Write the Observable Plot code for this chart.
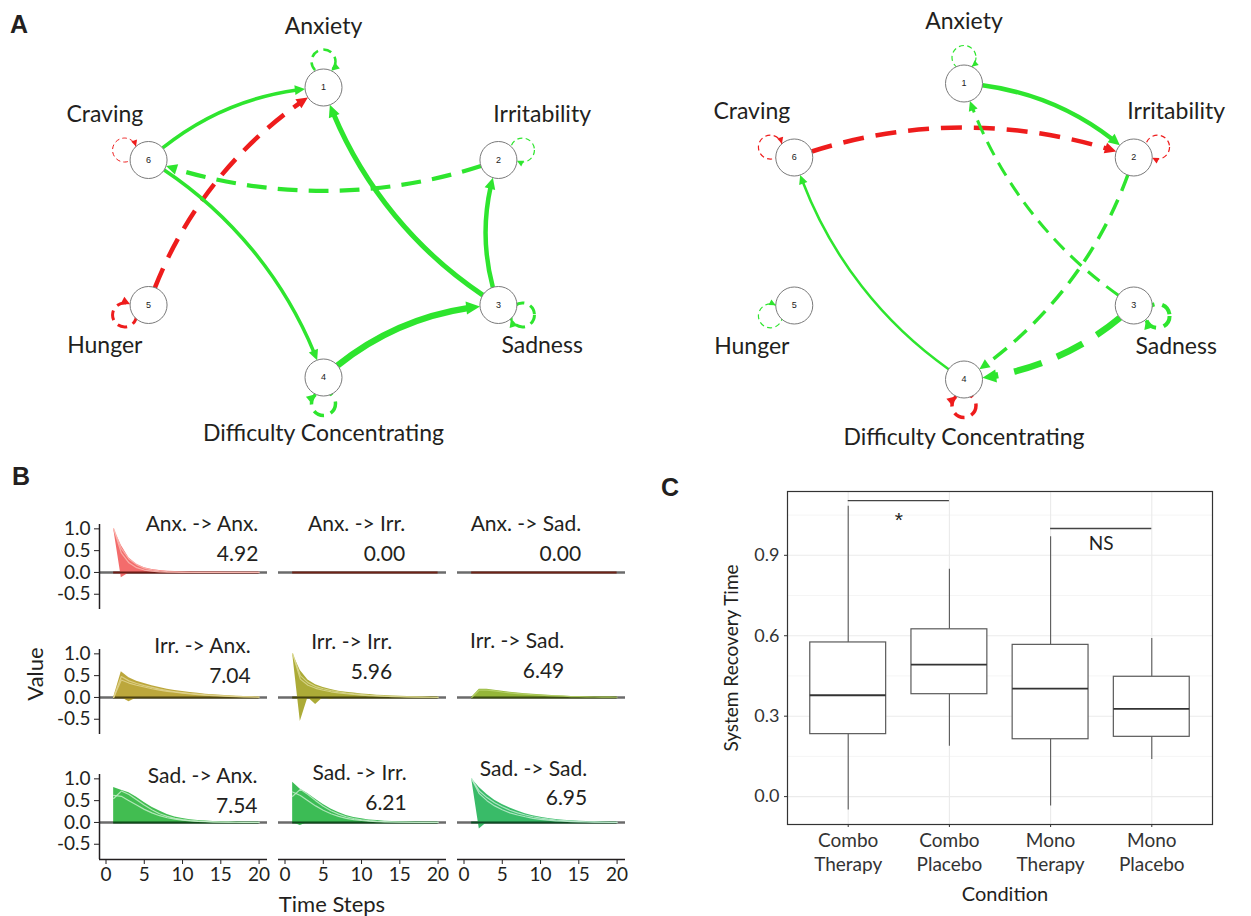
<!DOCTYPE html>
<html>
<head>
<meta charset="utf-8">
<script src="https://cdn.jsdelivr.net/npm/d3@7"></script>
<script src="https://cdn.jsdelivr.net/npm/@observablehq/plot@0.6"></script>
<style>
  body { margin: 0; background: #fff; }
  #fig { position: relative; width: 1251px; height: 916px; background: #fff; overflow: hidden; font-family: Lato, sans-serif; color: #231f20; }
  .pane { position: absolute; }
  .letter { position: absolute; font-family: "Liberation Sans", Arial, sans-serif; font-weight: bold; font-size: 25px; line-height: 25px; color: #231f20; }
  .axt { position: absolute; font-family: Lato, sans-serif; color: #231f20; white-space: nowrap; line-height: 1; transform: translate(-50%, -50%); }
  .axt.rot { transform: translate(-50%, -50%) rotate(-90deg); }
</style>
</head>
<body>
<div id="fig">
  <div class="pane" id="netL" style="left:0;top:0"></div>
  <div class="pane" id="netR" style="left:625px;top:0"></div>
  <div class="pane" id="irf" style="left:0;top:470px"></div>
  <div class="pane" id="box" style="left:640px;top:460px"></div>
  <div class="letter" style="left:10px;top:12px">A</div>
  <div class="letter" style="left:12px;top:464px">B</div>
  <div class="letter" style="left:661px;top:475px">C</div>
  <div class="axt rot" style="left:35px;top:674px;font-size:22px">Value</div>
  <div class="axt" style="left:332px;top:904px;font-size:22px">Time Steps</div>
  <div class="axt rot" style="left:730px;top:658px;font-size:19px">System Recovery Time</div>
  <div class="axt" style="left:1005px;top:893px;font-size:20px">Condition</div>
</div>
<script>
// ---------------- Panel A data: networks ----------------
const nodeIds = [1, 2, 3, 4, 5, 6];
const nodeNames = ["Anxiety", "Irritability", "Sadness", "Difficulty Concentrating", "Hunger", "Craving"];
const layoutX = [0, 0.866, 0.866, 0, -0.866, -0.866];
const layoutY = [1, 0.5, -0.5, -1, -0.5, 0.5];

// left network (edge weights; sign = colour, |w| = thickness)
const leftFrom   = [6, 5, 3, 2, 3, 6, 4];
const leftTo     = [1, 1, 1, 6, 2, 4, 3];
const leftWeight = [0.35, -0.45, 0.5, 0.42, 0.45, 0.35, 0.65];
const leftDashed = [false, true, false, true, false, false, false];
const leftLoops  = [0.25, 0.12, 0.3, 0.35, -0.3, -0.1];

// right network
const rightFrom   = [1, 6, 3, 2, 3, 4];
const rightTo     = [2, 2, 1, 4, 4, 6];
const rightWeight = [0.45, -0.45, 0.3, 0.35, 0.65, 0.25];
const rightDashed = [false, true, true, true, true, false];
const rightLoops  = [0.12, -0.12, 0.4, -0.35, 0.12, -0.12];

// ---------------- Panel B data: impulse responses ----------------
const timeSteps = [1, 2, 3, 4, 5, 6, 7, 8, 9, 10, 11, 12, 13, 14, 15, 16, 17, 18, 19, 20];
const panelFrom = ["Anx.", "Anx.", "Anx.", "Irr.", "Irr.", "Irr.", "Sad.", "Sad.", "Sad."];
const panelTo   = ["Anx.", "Irr.", "Sad.", "Anx.", "Irr.", "Sad.", "Anx.", "Irr.", "Sad."];
const recovery  = [4.92, 0.00, 0.00, 7.04, 5.96, 6.49, 7.54, 6.21, 6.95];
const upperEnvelope = [
  [1.00, 0.62, 0.33, 0.19, 0.11, 0.07, 0.045, 0.03, 0.02, 0.013, 0.009, 0.006, 0.004, 0.003, 0.002, 0.001, 0.001, 0, 0, 0],
  [0, 0, 0, 0, 0, 0, 0, 0, 0, 0, 0, 0, 0, 0, 0, 0, 0, 0, 0, 0],
  [0, 0, 0, 0, 0, 0, 0, 0, 0, 0, 0, 0, 0, 0, 0, 0, 0, 0, 0, 0],
  [0, 0.59, 0.45, 0.37, 0.32, 0.27, 0.23, 0.19, 0.16, 0.135, 0.115, 0.095, 0.075, 0.06, 0.048, 0.037, 0.028, 0.02, 0.014, 0.01],
  [1.00, 0.62, 0.40, 0.29, 0.23, 0.18, 0.145, 0.12, 0.10, 0.08, 0.065, 0.052, 0.042, 0.034, 0.027, 0.021, 0.016, 0.012, 0.008, 0.005],
  [0, 0.19, 0.19, 0.165, 0.14, 0.12, 0.10, 0.085, 0.072, 0.06, 0.05, 0.04, 0.031, 0.024, 0.02, 0.016, 0.013, 0.01, 0.008, 0.006],
  [0.80, 0.74, 0.68, 0.58, 0.46, 0.35, 0.26, 0.18, 0.125, 0.088, 0.062, 0.045, 0.033, 0.024, 0.018, 0.013, 0.01, 0.007, 0.005, 0.004],
  [0.92, 0.76, 0.66, 0.53, 0.41, 0.31, 0.23, 0.16, 0.115, 0.082, 0.058, 0.042, 0.03, 0.022, 0.016, 0.012, 0.009, 0.006, 0.004, 0.003],
  [1.00, 0.80, 0.64, 0.51, 0.41, 0.33, 0.26, 0.20, 0.155, 0.12, 0.09, 0.068, 0.05, 0.037, 0.027, 0.019, 0.013, 0.009, 0.006, 0.004]
];
const lowerEnvelope = [
  [1.00, -0.12, -0.01, 0, 0, 0, 0, 0, 0, 0, 0, 0, 0, 0, 0, 0, 0, 0, 0, 0],
  [0, 0, 0, 0, 0, 0, 0, 0, 0, 0, 0, 0, 0, 0, 0, 0, 0, 0, 0, 0],
  [0, 0, 0, 0, 0, 0, 0, 0, 0, 0, 0, 0, 0, 0, 0, 0, 0, 0, 0, 0],
  [0, 0, -0.10, -0.01, 0, 0, 0, 0, 0, 0, 0, 0, 0, 0, 0, 0, 0, 0, 0, 0],
  [1.00, -0.55, 0, -0.16, 0, -0.04, 0, 0, 0, 0, 0, 0, 0, 0, 0, 0, 0, 0, 0, 0],
  [0, -0.02, 0, 0, 0, 0, 0, 0, 0, 0, 0, 0, 0, 0, 0, 0, 0, 0, 0, 0],
  [0, -0.03, 0, 0, 0, 0, 0, 0, 0, 0, 0, 0, 0, 0, 0, 0, 0, 0, 0, 0],
  [0, -0.07, 0, 0, 0, 0, 0, 0, 0, 0, 0, 0, 0, 0, 0, 0, 0, 0, 0, 0],
  [1.00, -0.15, 0, 0, 0, 0, 0, 0, 0, 0, 0, 0, 0, 0, 0, 0, 0, 0, 0, 0]
];
const highlightA = [
  [1.00, 0.55, 0.31, 0.18, 0.10, 0.06, 0.035, 0.02, 0.012, 0.007, 0.004, 0.002, 0.001, 0, 0, 0, 0, 0, 0, 0],
  null, null,
  [0, 0.48, 0.38, 0.32, 0.27, 0.23, 0.19, 0.16, 0.13, 0.11, 0.09, 0.075, 0.06, 0.05, 0.04, 0.03, 0.024, 0.018, 0.013, 0.009],
  [1.00, 0.50, 0.34, 0.25, 0.20, 0.16, 0.13, 0.10, 0.08, 0.065, 0.05, 0.04, 0.032, 0.025, 0.02, 0.015, 0.011, 0.008, 0.005, 0.003],
  [0, 0.17, 0.17, 0.15, 0.125, 0.105, 0.088, 0.074, 0.062, 0.051, 0.042, 0.034, 0.027, 0.021, 0.017, 0.013, 0.01, 0.008, 0.006, 0.004],
  [0.55, 0.72, 0.64, 0.52, 0.40, 0.29, 0.20, 0.14, 0.095, 0.065, 0.045, 0.031, 0.022, 0.015, 0.01, 0.007, 0.005, 0.003, 0.002, 0.001],
  [0.60, 0.76, 0.64, 0.50, 0.37, 0.27, 0.19, 0.13, 0.09, 0.06, 0.04, 0.028, 0.02, 0.014, 0.01, 0.007, 0.005, 0.003, 0.002, 0.001],
  [1.00, 0.72, 0.57, 0.45, 0.36, 0.28, 0.22, 0.17, 0.13, 0.10, 0.075, 0.056, 0.042, 0.031, 0.022, 0.016, 0.011, 0.008, 0.005, 0.003]
];
const highlightB = [
  [1.00, 0.45, 0.22, 0.11, 0.055, 0.03, 0.015, 0.008, 0.004, 0.002, 0.001, 0, 0, 0, 0, 0, 0, 0, 0, 0],
  null, null,
  [0, 0.40, 0.33, 0.28, 0.24, 0.20, 0.17, 0.14, 0.12, 0.10, 0.08, 0.065, 0.052, 0.042, 0.033, 0.026, 0.02, 0.015, 0.011, 0.008],
  [1.00, 0.42, 0.28, 0.21, 0.165, 0.13, 0.105, 0.085, 0.068, 0.054, 0.043, 0.034, 0.027, 0.021, 0.016, 0.012, 0.009, 0.006, 0.004, 0.002],
  null,
  [0.62, 0.60, 0.50, 0.40, 0.30, 0.22, 0.155, 0.108, 0.075, 0.052, 0.036, 0.025, 0.017, 0.012, 0.008, 0.006, 0.004, 0.003, 0.002, 0.001],
  [0.70, 0.62, 0.50, 0.38, 0.28, 0.20, 0.14, 0.095, 0.065, 0.045, 0.031, 0.021, 0.015, 0.01, 0.007, 0.005, 0.003, 0.002, 0.001, 0.001],
  [1.00, 0.66, 0.50, 0.38, 0.29, 0.22, 0.17, 0.13, 0.095, 0.07, 0.052, 0.038, 0.028, 0.02, 0.014, 0.01, 0.007, 0.005, 0.003, 0.002]
];
// annotation anchors (time step, value) of each panel's label
const labelStep  = [19.9, 15.7, 15.3, 18.9, 14.0, 13.1, 19.8, 15.9, 16.1];
const labelValue = [0.83, 0.83, 0.83, 0.89, 0.98, 1.0, 0.78, 0.85, 0.95];

// ---------------- Panel C data: boxplot summary ----------------
const conditions   = ["Combo\nTherapy", "Combo\nPlacebo", "Mono\nTherapy", "Mono\nPlacebo"];
const whiskerLow   = [-0.05, 0.188, -0.035, 0.138];
const quartile1    = [0.233, 0.382, 0.214, 0.223];
const medians      = [0.378, 0.4925, 0.403, 0.327];
const quartile3    = [0.575, 0.624, 0.566, 0.447];
const whiskerHigh  = [1.083, 0.848, 0.969, 0.59];
const compareA     = [1, 3];
const compareB     = [2, 4];
const compareY     = [1.104, 1.0];
const compareLabel = ["*", "NS"];
const yMajor = [0, 0.3, 0.6, 0.9];
const yMinor = [0.15, 0.45, 0.75, 1.05];

// ---------------- styles ----------------
const GREEN = "#2ee52e", RED = "#ee1c1c";
const panelFill  = ["#f26464", "#f26464", "#f26464", "#b8a232", "#a8a62c", "#8fb22e", "#38b948", "#32b84c", "#2eb760"];
const panelDark  = ["#6e1c16", "#6e2418", "#6e2418", "#4f4512", "#46450f", "#3d4e12", "#0f4d1a", "#0f4d1c", "#0e4d25"];
const panelLight = ["#fab8b2", "#fab8b2", "#fab8b2", "#e0d38e", "#d9d78f", "#b9d46f", "#c4eec8", "#c1ecc8", "#bfecd0"];
const NODE_R = 18.5, BEND = 20, LOOP_R = 12, LOOP_D = 26;

function dashEdge(sw) { return `${(3 + 4 * sw).toFixed(1)},${(2 + 2.2 * sw).toFixed(1)}`; }
function dashLoop(sw) { return `${(2 + 2.6 * sw).toFixed(1)},${(1.5 + 1.6 * sw).toFixed(1)}`; }

// point on a Plot.arrow arc at chord distance d from its end, with travel direction
function arcPoint(P1, P2, bendDeg, d) {
  const [x1, y1] = P1, [x2, y2] = P2;
  const L = Math.hypot(x2 - x1, y2 - y1), a = Math.atan2(y2 - y1, x2 - x1);
  const b = bendDeg * Math.PI / 180;
  if (!b) return {p: [x2 - d * Math.cos(a), y2 - d * Math.sin(a)], t: a};
  const r = L / (2 * Math.sin(Math.abs(b)));
  const h = L / (2 * Math.tan(b));
  const cx = (x1 + x2) / 2 + h * Math.cos(a + Math.PI / 2);
  const cy = (y1 + y2) / 2 + h * Math.sin(a + Math.PI / 2);
  const th2 = Math.atan2(y2 - cy, x2 - cx);
  const s = Math.sign(b);
  const th = th2 - s * 2 * Math.asin(d / (2 * r));
  return {p: [cx + r * Math.cos(th), cy + r * Math.sin(th)], t: th + s * Math.PI / 2};
}
function triangle(p, t, hl, hw, id, color, sx, sy) {
  const [px, py] = p, c = Math.cos(t), s = Math.sin(t);
  const bx = px - hl * c, by = py - hl * s;
  const pts = [[px, py], [bx - (hw / 2) * s, by + (hw / 2) * c], [bx + (hw / 2) * s, by - (hw / 2) * c]];
  return pts.map(([x, y]) => ({id, color, x: sx.invert(x), y: sy.invert(y)}));
}

function network({from, to, weight, dashed, loops, xRange, yRange, width, height}) {
  const sx = d3.scaleLinear([-1, 1], xRange), sy = d3.scaleLinear([-1, 1], yRange);
  const nodes = nodeIds.map((id, i) => ({id, name: nodeNames[i], x: layoutX[i], y: layoutY[i], loop: loops[i]}));
  const byId = new Map(nodes.map((n) => [n.id, n]));
  const edges = from.map((f, i) => ({source: byId.get(f), target: byId.get(to[i]), w: weight[i], dashed: dashed[i]}));
  const edgeMarks = [], loopMarks = [], heads = [];
  edges.forEach((e, k) => {
    const sw = Math.abs(e.w) * 10, color = e.w > 0 ? GREEN : RED;
    const hl = 6 + 1.2 * sw, hw = 6 + 1.1 * sw;
    edgeMarks.push(Plot.arrow([e], {
      x1: (d) => d.source.x, y1: (d) => d.source.y, x2: (d) => d.target.x, y2: (d) => d.target.y,
      bend: BEND, headLength: 0, insetStart: NODE_R, insetEnd: NODE_R + hl * 0.8,
      stroke: color, strokeWidth: sw, strokeLinecap: "butt",
      strokeDasharray: e.dashed ? dashEdge(sw) : null
    }));
    const g = arcPoint([sx(e.source.x), sy(e.source.y)], [sx(e.target.x), sy(e.target.y)], BEND, NODE_R);
    heads.push(...triangle(g.p, g.t, hl, hw, "e" + k, color, sx, sy));
  });
  const O = [sx(0), sy(0)];
  nodes.forEach((n, i) => {
    const w = n.loop;
    if (!w) return;
    const sw = Math.abs(w) * 10, color = w > 0 ? GREEN : RED;
    const N = [sx(n.x), sy(n.y)];
    const ang = Math.atan2(N[1] - O[1], N[0] - O[0]);
    const C = [N[0] + LOOP_D * Math.cos(ang), N[1] + LOOP_D * Math.sin(ang)];
    loopMarks.push(Plot.dot([n], {
      x: () => sx.invert(C[0]), y: () => sy.invert(C[1]), r: LOOP_R,
      fill: "none", stroke: color, strokeWidth: sw, strokeDasharray: dashLoop(sw)
    }));
    const phi = Math.acos((LOOP_D * LOOP_D + LOOP_R * LOOP_R - NODE_R * NODE_R) / (2 * LOOP_D * LOOP_R));
    const thE = ang + Math.PI - phi;
    const E = [C[0] + LOOP_R * Math.cos(thE), C[1] + LOOP_R * Math.sin(thE)];
    heads.push(...triangle(E, thE + Math.PI / 2, 5 + 1.2 * sw, 5 + 1.1 * sw, "l" + i, color, sx, sy));
  });
  return Plot.plot({
    width, height,
    x: {domain: [-1, 1], range: xRange, axis: null},
    y: {domain: [-1, 1], range: yRange, axis: null},
    color: {type: "identity"},
    style: {fontFamily: "Lato, sans-serif", background: "transparent", overflow: "visible"},
    marks: [
      ...edgeMarks,
      ...loopMarks,
      Plot.dot(nodes, {x: "x", y: "y", r: NODE_R, fill: "white", stroke: "#7a7a7a", strokeWidth: 1}),
      Plot.line(heads, {x: "x", y: "y", z: "id", fill: "color", stroke: "none", curve: "linear-closed"}),
      Plot.text(nodes, {x: "x", y: "y", text: (d) => String(d.id), fontSize: 9, fill: "#222", fontFamily: "Liberation Sans, Arial, sans-serif"}),
      Plot.text(nodes, {x: (d) => d.x * 1.25, y: (d) => d.y * 1.22 + (d.y > 0 ? 0.2 : -0.17), text: "name", fontSize: 23, fill: "#231f20"})
    ]
  });
}

document.getElementById("netL").append(network({
  from: leftFrom, to: leftTo, weight: leftWeight, dashed: leftDashed, loops: leftLoops,
  xRange: [121, 525], yRange: [377, 87], width: 625, height: 460
}));
document.getElementById("netR").append(network({
  from: rightFrom, to: rightTo, weight: rightWeight, dashed: rightDashed, loops: rightLoops,
  xRange: [142.5, 534.5], yRange: [379, 83], width: 626, height: 460
}));

// ---------------- Panel B ----------------
const sources = ["Anx.", "Irr.", "Sad."];
const panels = panelFrom.map((f, p) => ({p, from: f, to: panelTo[p]}));
const bandRows = [], lightRows = [];
panels.forEach((d) => {
  const nonzero = upperEnvelope[d.p].some((v) => v !== 0) || lowerEnvelope[d.p].some((v) => v !== 0);
  if (nonzero) timeSteps.forEach((t, k) => bandRows.push({...d, t, lo: lowerEnvelope[d.p][k], hi: upperEnvelope[d.p][k]}));
  [highlightA[d.p], highlightB[d.p]].forEach((arr, j) => {
    if (arr) timeSteps.forEach((t, k) => lightRows.push({...d, series: d.p + "-" + j, t, v: arr[k]}));
  });
});
const X_MIN = -0.85, X_MAX = 21.1, Y_MIN = -0.85, Y_MAX = 1.1;
const leftFacets = sources.map((s) => ({from: s, to: sources[0]}));
const bottomFacets = sources.map((s) => ({from: sources[2], to: s}));

document.getElementById("irf").append(Plot.plot({
  width: 640, height: 446,
  marginLeft: 98.4, marginRight: 14.6, marginTop: 53.4, marginBottom: 57.2,
  fx: {domain: sources, paddingInner: 0.06, paddingOuter: 0, axis: null},
  fy: {domain: sources, paddingInner: 0.323, paddingOuter: 0, axis: null},
  x: {domain: [X_MIN, X_MAX], ticks: [0, 5, 10, 15, 20], tickSize: 5, tickPadding: 3, label: null},
  y: {domain: [Y_MIN, Y_MAX], ticks: [-0.5, 0, 0.5, 1], tickFormat: (d) => d.toFixed(1), tickSize: 5, tickPadding: 4, label: null},
  color: {type: "identity"},
  style: {fontFamily: "Lato, sans-serif", fontSize: "19px", color: "#231f20", background: "transparent", overflow: "visible"},
  marks: [
    Plot.ruleY(panels, {y: () => 0, fx: "to", fy: "from", stroke: "#6b6b6b", strokeWidth: 2.4}),
    Plot.areaY(bandRows, {x: "t", y1: "lo", y2: "hi", z: "p", fill: (d) => panelFill[d.p], fillOpacity: 0.95, fx: "to", fy: "from"}),
    Plot.ruleY(panels, {y: () => 0, x1: () => timeSteps[0], x2: () => timeSteps[timeSteps.length - 1], stroke: (d) => panelDark[d.p], strokeWidth: 2, fx: "to", fy: "from"}),
    Plot.line(lightRows, {x: "t", y: "v", z: "series", stroke: (d) => panelLight[d.p], strokeWidth: 1.2, strokeOpacity: 0.85, fx: "to", fy: "from"}),
    Plot.ruleX(leftFacets, {x: () => X_MIN, y1: () => Y_MIN, y2: () => Y_MAX, fx: "to", fy: "from", stroke: "#231f20", strokeWidth: 1.5}),
    Plot.ruleY(bottomFacets, {y: () => Y_MIN, fx: "to", fy: "from", stroke: "#231f20", strokeWidth: 1.5}),
    Plot.text(panels, {
      x: (d) => labelStep[d.p], y: (d) => labelValue[d.p],
      text: (d) => `${d.from} -> ${d.to}\n${recovery[d.p].toFixed(2)}`,
      textAnchor: "end", lineHeight: 1.42, fontSize: 21, fill: "#231f20", fx: "to", fy: "from"
    })
  ]
}));

// ---------------- Panel C ----------------
const boxes = conditions.map((c, i) => ({i: i + 1, lo: whiskerLow[i], q1: quartile1[i], med: medians[i], q3: quartile3[i], hi: whiskerHigh[i]}));
const comparisons = compareLabel.map((l, k) => ({a: compareA[k], b: compareB[k], y: compareY[k], label: l}));
const HALF = 0.375;
document.getElementById("box").append(Plot.plot({
  width: 611, height: 456,
  marginLeft: 147, marginRight: 39, marginTop: 31, marginBottom: 92,
  x: {domain: [0.4, 4.6]},
  y: {domain: [-0.104, 1.138]},
  style: {fontFamily: "Lato, sans-serif", color: "#333", background: "transparent", overflow: "visible"},
  marks: [
    Plot.ruleY(yMinor, {stroke: "#f3f3f3", strokeWidth: 0.8}),
    Plot.ruleY(yMajor, {stroke: "#ebebeb", strokeWidth: 1.1}),
    Plot.ruleX(boxes, {x: "i", stroke: "#ebebeb", strokeWidth: 1.1}),
    Plot.ruleX(boxes, {x: "i", y1: "lo", y2: "q1", stroke: "#5a5a5a", strokeWidth: 1.1}),
    Plot.ruleX(boxes, {x: "i", y1: "q3", y2: "hi", stroke: "#5a5a5a", strokeWidth: 1.1}),
    Plot.rect(boxes, {x1: (d) => d.i - HALF, x2: (d) => d.i + HALF, y1: "q1", y2: "q3", fill: "white", stroke: "#5a5a5a", strokeWidth: 1.2}),
    Plot.ruleY(boxes, {y: "med", x1: (d) => d.i - HALF, x2: (d) => d.i + HALF, stroke: "#333", strokeWidth: 1.8}),
    Plot.ruleY(comparisons, {y: "y", x1: "a", x2: "b", stroke: "#444", strokeWidth: 1.4}),
    Plot.text(comparisons.filter((d) => d.label === "*"), {x: (d) => (d.a + d.b) / 2, y: (d) => d.y - 0.05, text: "label", fontSize: 21, dy: 6, fill: "#222", fontFamily: "Liberation Sans, Arial, sans-serif"}),
    Plot.text(comparisons.filter((d) => d.label !== "*"), {x: (d) => (d.a + d.b) / 2, y: (d) => d.y - 0.056, text: "label", fontSize: 19, fill: "#222"}),
    Plot.frame({stroke: "#333", strokeWidth: 1.2}),
    Plot.axisY({ticks: yMajor, tickFormat: (d) => d.toFixed(1), tickSize: 3, tickPadding: 5, fontSize: 18, label: null}),
    Plot.axisX({ticks: [1, 2, 3, 4], tickFormat: (d) => conditions[d - 1], tickSize: 3, tickPadding: 3, fontSize: 19, lineHeight: 1.25, label: null})
  ]
}));
</script>
</body>
</html>
